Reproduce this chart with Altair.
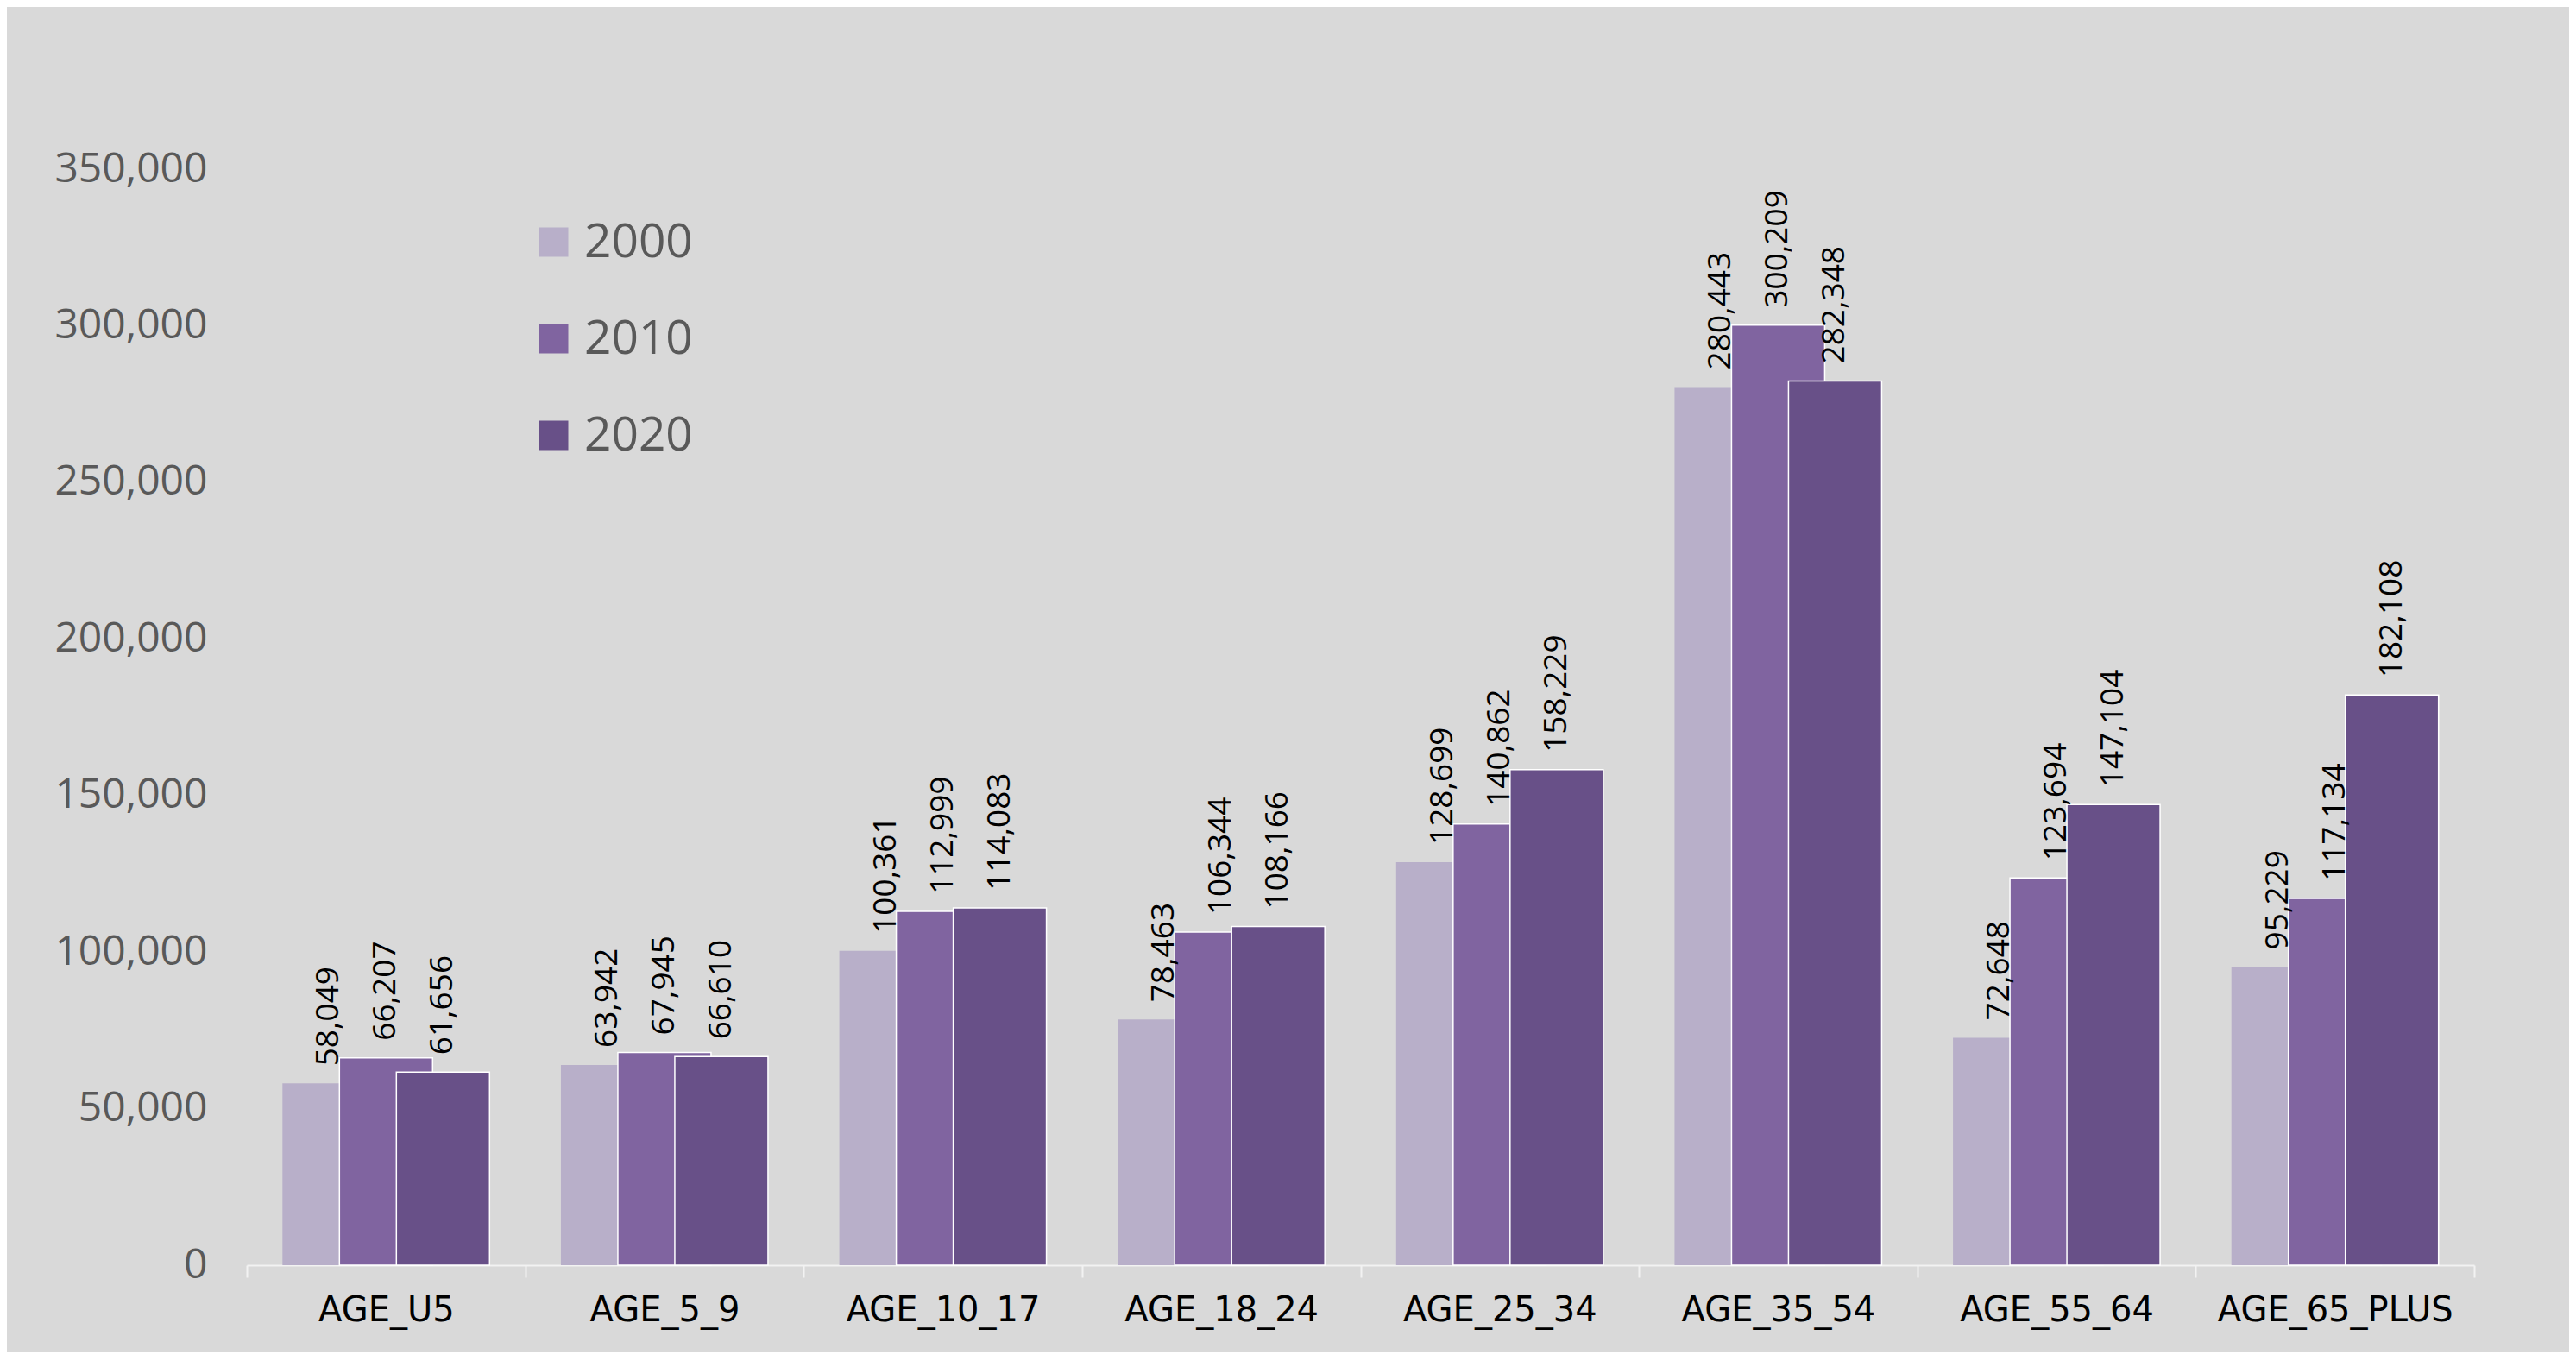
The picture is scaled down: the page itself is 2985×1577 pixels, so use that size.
import altair as alt
import pandas as pd

categories = ["AGE_U5", "AGE_5_9", "AGE_10_17", "AGE_18_24", "AGE_25_34", "AGE_35_54", "AGE_55_64", "AGE_65_PLUS"]
years = ["2000", "2010", "2020"]
values_2000 = [58049, 63942, 100361, 78463, 128699, 280443, 72648, 95229]
values_2010 = [66207, 67945, 112999, 106344, 140862, 300209, 123694, 117134]
values_2020 = [61656, 66610, 114083, 108166, 158229, 282348, 147104, 182108]
colors = ["#B8AFC9", "#8064A0", "#685088"]
y_ticks = [0, 50000, 100000, 150000, 200000, 250000, 300000, 350000]

series = {"2000": values_2000, "2010": values_2010, "2020": values_2020}
rows = []
for yr in years:
    for c, v in zip(categories, series[yr]):
        rows.append({"cat": c, "year": yr, "value": v})
df = pd.DataFrame(rows)

offsets = {"2000": -66, "2010": 0, "2020": 66}
BAR_W = 108

x_enc = alt.X(
    "cat:N", sort=categories, title=None,
    scale=alt.Scale(paddingInner=0, paddingOuter=0),
    axis=alt.Axis(labelAngle=0, labelFont="DejaVu Sans", labelFontSize=40, labelColor="#000000",
                  labelPadding=18, labelLimit=0, tickSize=14, tickColor="#F2F2F2", tickWidth=2,
                  tickBand="extent", domainColor="#F2F2F2", domainWidth=2, grid=False),
)
y_enc = alt.Y(
    "value:Q", title=None,
    scale=alt.Scale(domain=[0, 350000], nice=False),
    axis=alt.Axis(values=y_ticks, format=",.0f", labelFont="Open Sans", labelFontSize=48,
                  labelColor="#595959", labelPadding=46, ticks=False, tickSize=0,
                  domain=False, grid=False),
)
color_enc = alt.Color(
    "year:N", scale=alt.Scale(domain=years, range=colors),
    legend=alt.Legend(title=None, orient="none", legendX=328, legendY=57, padding=0,
                      symbolType="square", symbolSize=1156, symbolStrokeWidth=0,
                      labelFont="Open Sans", labelFontSize=55, labelColor="#595959",
                      labelOffset=8, rowPadding=56),
)

layers = []
for yr in years:
    stroke_kw = {} if yr == "2000" else {"stroke": "#FFFFFF", "strokeWidth": 1.5}
    layers.append(
        alt.Chart(df).transform_filter(alt.datum.year == yr)
        .mark_bar(width=BAR_W, xOffset=offsets[yr], **stroke_kw)
        .encode(x=x_enc, y=y_enc, color=color_enc)
    )
for yr in years:
    layers.append(
        alt.Chart(df).transform_filter(alt.datum.year == yr)
        .mark_text(angle=270, align="left", baseline="middle", xOffset=offsets[yr], yOffset=-20,
                   font="Open Sans", fontSize=37, color="#000000")
        .encode(x=x_enc, y=y_enc, text=alt.Text("value:Q", format=","))
    )

chart = alt.layer(*layers).properties(
    width=2581, height=1270,
    autosize=alt.AutoSizeParams(type="none"),
    padding={"left": 278, "top": 188, "right": 110, "bottom": 100},
    background="#D9D9D9",
).configure_view(strokeWidth=0)

chart.save("out.html", embed_options={"renderer": "svg", "actions": False})
